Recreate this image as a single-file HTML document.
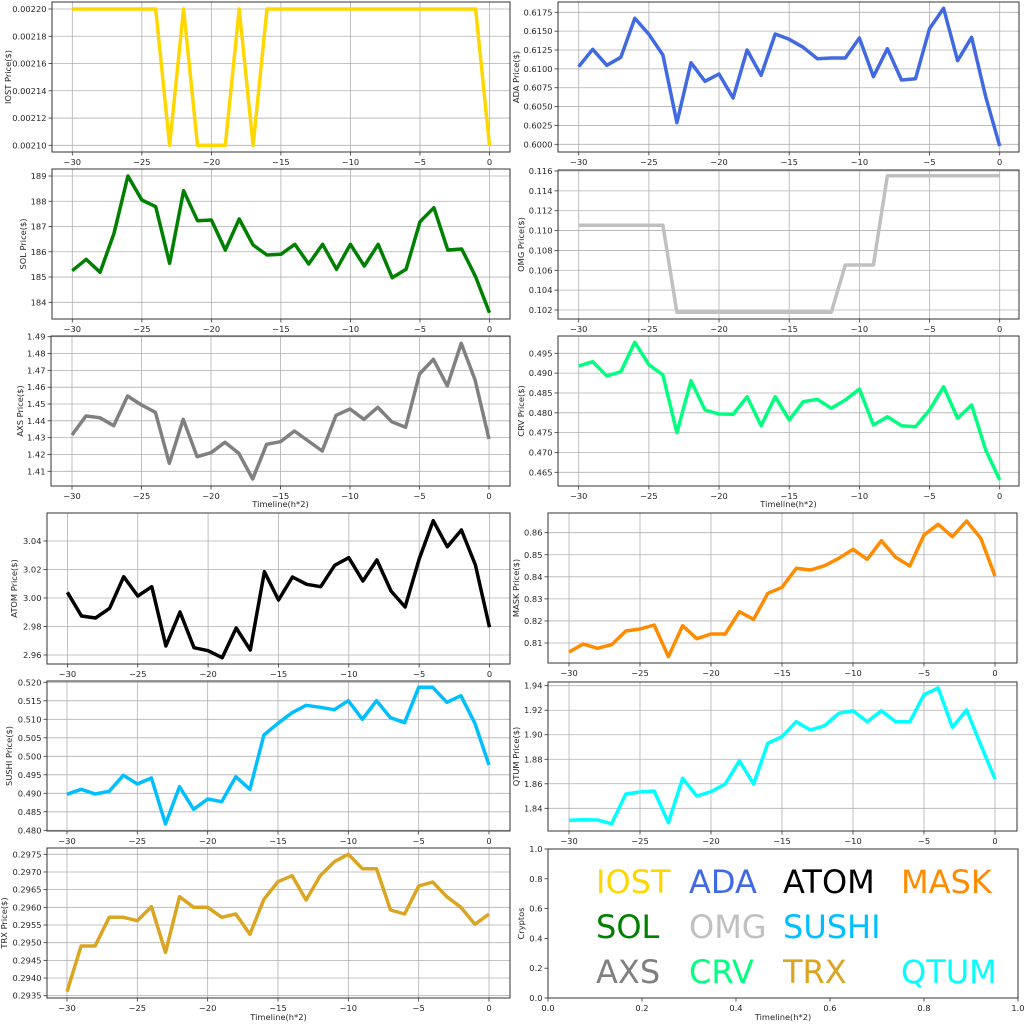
<!DOCTYPE html>
<html><head><meta charset="utf-8">
<style>
html,body{margin:0;padding:0;background:#fff;}
svg{display:block;}
text{font-family:"DejaVu Sans","Liberation Sans",sans-serif;fill:#262626;}
</style></head>
<body>
<svg id="s" width="1024" height="1024" xmlns="http://www.w3.org/2000/svg"></svg>
<script>
const S=document.getElementById('s');
let out='';
const FS=8.3;
function fmt(v,d){let s=v.toFixed(d);return s.replace('-','\u2212');}
const P=[
 {f:[52,510,2,152],xm:[72.3,489.5],yt:[0.0022,9,0.0021,145.3],t0:0.0021,t1:0.0022,st:0.00002,d:5,c:'#FFD700',lab:'IOST Price($)',lx:7,
  ys:[0.0022,0.0022,0.0022,0.0022,0.0022,0.0022,0.0022,0.0021,0.0022,0.0021,0.0021,0.0021,0.0022,0.0021,0.0022,0.0022,0.0022,0.0022,0.0022,0.0022,0.0022,0.0022,0.0022,0.0022,0.0022,0.0022,0.0022,0.0022,0.0022,0.0022,0.0021],val:true},
 {f:[558,1019,2,152],xm:[578.7,999.7],yt:[0.6175,12.3,0.6,144.3],t0:0.6,t1:0.6175,st:0.0025,d:4,c:'#4169E1',lab:'ADA  Price($)',lx:515,off:0,
  ys:[200,148,196,172,55,103,165,368,188,244,222,294,150,226,102,118,142,176,174,174,114,230,146,240,236,86,25,182,112,290,438]},
 {f:[52,510,169,319],xm:[72.3,489.5],yt:[189,176,184,302.3],t0:184,t1:189,st:1,d:0,c:'#008000',lab:'SOL Price($)',lx:22,off:0,
  ys:[812,778,817,700,528,600,620,790,572,662,660,750,657,735,765,763,733,792,733,808,733,798,733,833,808,665,623,750,747,830,938]},
 {f:[558,1019,170,319],xm:[578.7,999.7],yt:[0.116,171,0.102,310],t0:0.102,t1:0.116,st:0.002,d:3,c:'#C0C0C0',lab:'OMG  Price($)',lx:520,off:0,
  ys:[676,676,676,676,676,676,676,937,937,937,937,937,937,937,937,937,937,937,937,795,795,795,527,527,527,527,527,527,527,527,527]},
 {f:[51,510,336,486],xm:[72,489],yt:[1.49,336.7,1.41,471.3],t0:1.41,t1:1.49,st:0.01,d:2,c:'#808080',lab:'AXS Price($)',lx:19,off:330,xl:507,
  ys:[315,258,263,287,198,225,247,400,268,380,368,337,370,447,343,335,303,333,363,256,237,268,232,275,292,132,88,168,40,150,327]},
 {f:[558,1019,336,486],xm:[578.7,999.7],yt:[0.495,353.3,0.465,472.3],t0:0.465,t1:0.495,st:0.005,d:3,c:'#00FF7F',lab:'CRV  Price($)',lx:520,off:330,xl:507,
  ys:[108,95,138,125,37,104,135,308,152,240,252,253,200,287,200,270,215,208,235,210,177,285,260,287,290,240,170,265,225,360,450]},
 {f:[47,510,513,664],xm:[67.4,489.5],yt:[3.04,541,2.96,655],t0:2.96,t1:3.04,st:0.02,d:2,c:'#000000',lab:'ATOM  Price($)',lx:13,off:480,
  ys:[337,408,414,385,290,348,320,498,396,503,512,533,444,510,275,360,291,313,320,256,233,303,240,333,381,237,122,200,150,255,442]},
 {f:[548,1017,513,663],xm:[569,995],yt:[0.86,532.7,0.81,643],t0:0.81,t1:0.86,st:0.01,d:2,c:'#FF8C00',lab:'MASK  Price($)',lx:515,off:330,
  ys:[966,942,955,944,903,897,885,980,887,926,912,912,845,868,790,772,715,720,707,685,658,688,632,682,708,615,583,620,573,625,738]},
 {f:[47,510,681,831],xm:[67,489],yt:[0.52,682.3,0.48,830.3],t0:0.48,t1:0.52,st:0.005,d:3,c:'#00BFFF',lab:'SUSHI  Price($)',lx:8,off:670,
  ys:[373,358,372,364,316,342,324,462,350,418,387,395,320,358,195,160,128,106,112,119,92,148,92,143,158,52,52,97,77,160,285]},
 {f:[548,1017,682,831],xm:[569,995],yt:[1.94,685.7,1.84,808.3],t0:1.84,t1:1.94,st:0.02,d:2,c:'#00FFFF',lab:'QTUM Price($)',lx:515,off:660,
  ys:[481,479,480,491,402,396,393,488,355,408,395,372,302,372,250,230,185,210,197,160,152,185,152,185,185,104,84,202,150,255,357]},
 {f:[47,510,848,998],xm:[67,489],yt:[0.2975,854.3,0.2935,995.7],t0:0.2935,t1:0.2975,st:0.0005,d:4,c:'#DAA520',lab:'TRX Price($)',lx:3,off:670,xl:1020,
  ys:[965,828,828,742,742,752,710,847,680,712,712,742,732,793,688,635,617,690,617,575,553,596,596,720,732,648,636,680,712,763,732]}
];
for(const p of P){
 const [x0,x1,y0,y1]=p.f;
 const X=v=>p.xm[0]+(v+30)/30*(p.xm[1]-p.xm[0]);
 const Y=v=>p.yt[1]+(v-p.yt[0])/(p.yt[2]-p.yt[0])*(p.yt[3]-p.yt[1]);
 for(let v=-30;v<=0;v+=5){const x=X(v);
  out+=`<line x1="${x}" y1="${y0}" x2="${x}" y2="${y1}" stroke="#b0b0b0" stroke-width="0.8"/>`;
  out+=`<line x1="${x}" y1="${y1}" x2="${x}" y2="${y1+3.5}" stroke="#333" stroke-width="0.8"/>`;
  out+=`<text x="${x}" y="${y1+13}" font-size="${FS}" text-anchor="middle">${fmt(v,0)}</text>`;}
 const n=Math.round((p.t1-p.t0)/p.st);
 for(let i=0;i<=n;i++){const v=p.t0+i*p.st;const y=Y(v);
  out+=`<line x1="${x0}" y1="${y}" x2="${x1}" y2="${y}" stroke="#b0b0b0" stroke-width="0.8"/>`;
  out+=`<line x1="${x0-3.5}" y1="${y}" x2="${x0}" y2="${y}" stroke="#333" stroke-width="0.8"/>`;
  out+=`<text x="${x0-5.5}" y="${y+3}" font-size="${FS}" text-anchor="end">${fmt(v,p.d)}</text>`;}
 let pts=p.ys.map((v,i)=>{const x=X(i-30);const y=p.val?Y(v):p.off+v/3;return x.toFixed(1)+','+y.toFixed(1);}).join(' ');
 out+=`<polyline points="${pts}" fill="none" stroke="${p.c}" stroke-width="3.5" stroke-linejoin="round"/>`;
 out+=`<rect x="${x0}" y="${y0}" width="${x1-x0}" height="${y1-y0}" fill="none" stroke="#333" stroke-width="1"/>`;
 const cy=(y0+y1)/2;
 out+=`<text transform="translate(${p.lx+4},${cy}) rotate(-90)" font-size="${FS}" text-anchor="middle">${p.lab}</text>`;
 if(p.xl) out+=`<text x="${(x0+x1)/2}" y="${p.xl}" font-size="${FS}" text-anchor="middle">Timeline(h*2)</text>`;
}
{const x0=548,x1=1018,y0=849,y1=998;
 for(let i=0;i<=5;i++){const v=i*0.2;const x=x0+v*(x1-x0);const y=y1-v*(y1-y0);
  out+=`<line x1="${x}" y1="${y1}" x2="${x}" y2="${y1+3.5}" stroke="#333" stroke-width="0.8"/>`;
  out+=`<text x="${x}" y="${y1+13}" font-size="${FS}" text-anchor="middle">${v.toFixed(1)}</text>`;
  out+=`<line x1="${x0-3.5}" y1="${y}" x2="${x0}" y2="${y}" stroke="#333" stroke-width="0.8"/>`;
  out+=`<text x="${x0-5.5}" y="${y+3}" font-size="${FS}" text-anchor="end">${v.toFixed(1)}</text>`;}
 out+=`<rect x="${x0}" y="${y0}" width="${x1-x0}" height="${y1-y0}" fill="none" stroke="#333" stroke-width="1"/>`;
 out+=`<text transform="translate(524,${(y0+y1)/2}) rotate(-90)" font-size="${FS}" text-anchor="middle">Cryptos</text>`;
 out+=`<text x="${(x0+x1)/2}" y="1020" font-size="${FS}" text-anchor="middle">Timeline(h*2)</text>`;
 const L=[['IOST','#FFD700',596,893],['ADA','#4169E1',689,893],['ATOM','#000000',783,893],['MASK','#FF8C00',901,893],
  ['SOL','#008000',596,938],['OMG','#C0C0C0',689,938],['SUSHI','#00BFFF',783,938],
  ['AXS','#808080',596,983],['CRV','#00FF7F',689,983],['TRX','#DAA520',783,983],['QTUM','#00FFFF',901,983]];
 for(const [t,c,x,y] of L) out+=`<text x="${x}" y="${y}" font-size="32" style="fill:${c}">${t}</text>`;
}
S.innerHTML=out;
</script>
</body></html>
